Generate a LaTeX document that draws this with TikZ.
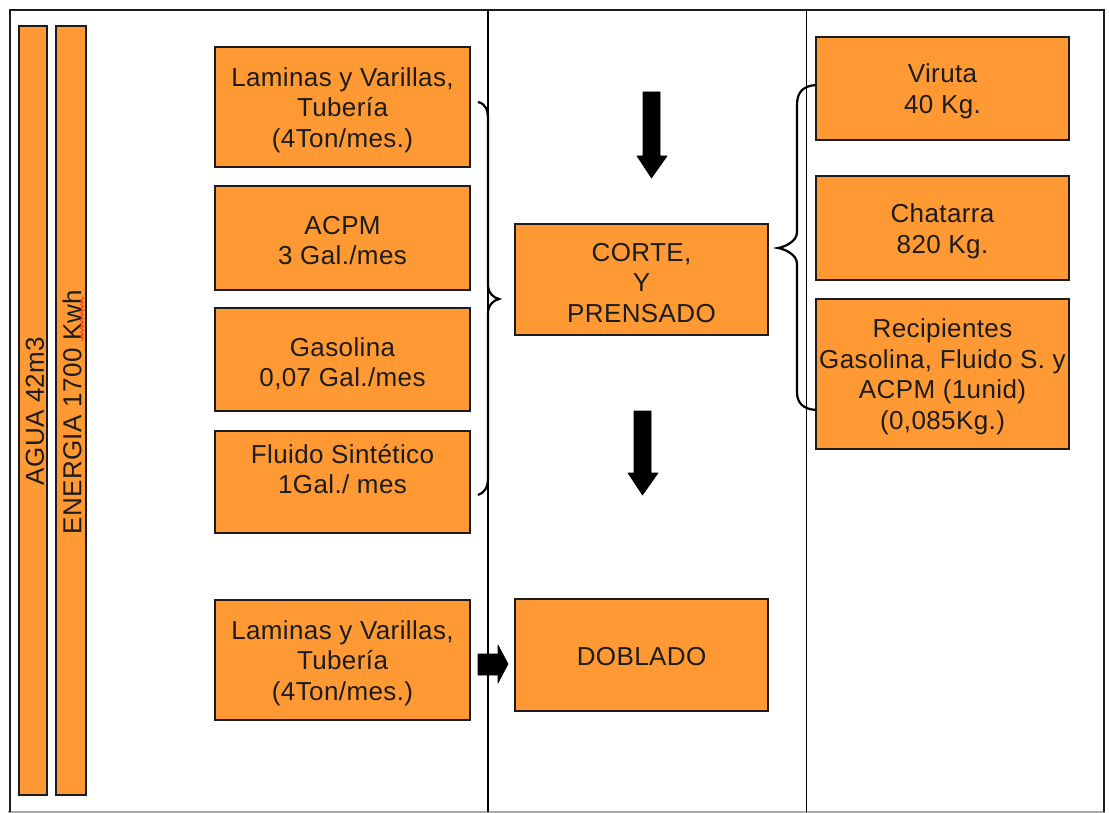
\documentclass[tikz,border=0pt]{standalone}
\usepackage{fontspec}
\setmainfont{Liberation Sans}[LetterSpace=1.5]
\usetikzlibrary{decorations.pathmorphing}
\definecolor{boxorange}{RGB}{255,153,51}
\definecolor{inkdark}{RGB}{28,28,28}
\definecolor{framegray}{RGB}{170,170,170}

\begin{document}
\begin{tikzpicture}[x=1pt,y=-1pt,
  box/.style={draw=inkdark, line width=1.3pt, fill=boxorange, inner sep=0pt},
  txt/.style={font=\fontsize{26}{30.5}\selectfont, text=inkdark, align=center, inner sep=0pt},
  brace/.style={draw=black, line width=2.2pt},
  blockarrow/.style={fill=black, draw=black, line width=0.6pt, line join=round}]

% page size
\useasboundingbox (0,0) rectangle (1109,813);
\fill[white] (0,0) rectangle (1109,813);

% outer frame and column dividers
\draw[framegray, line width=1.2pt] (8,812) -- (1105,812);
\draw[inkdark, line width=2.8pt] (10,812) -- (10,10) -- (1104,10) -- (1104,812);
\draw[black, line width=1.3pt] (488,10) -- (488,812);
\draw[black, line width=1.3pt] (806.5,10) -- (806.5,812);

% resource bars
\node[box, minimum width=28, minimum height=769] (agua) at (33,410.5) {};
\node[box, minimum width=30, minimum height=769] (energia) at (71,410.5) {};
\node[txt, rotate=90] (taqua) at (35,411) {AGUA 42m3};
\node[txt, rotate=90] (tenergia) at (72,412) {ENERGIA 1700 Kwh};
\draw[red!85!white, line width=0.7pt, decorate,
      decoration={snake, amplitude=1.4pt, segment length=4pt}]
  (82,297) -- (82,341);

% inputs
\node[box, minimum width=255, minimum height=120] (in1) at (342.5,107) {};
\node[txt] at (342.5,110) {Laminas y Varillas,\\Tubería\\(4Ton/mes.)};
\node[box, minimum width=255, minimum height=104] (in2) at (342.5,238) {};
\node[txt] at (342.5,240.5) {ACPM\\3 Gal./mes};
\node[box, minimum width=255, minimum height=103] (in3) at (342.5,359.5) {};
\node[txt] at (342.5,363.5) {Gasolina\\0,07 Gal./mes};
\node[box, minimum width=255, minimum height=102] (in4) at (342.5,482) {};
\node[txt] at (342.5,469) {Fluido Sintético\\1Gal./ mes};
\node[box, minimum width=255, minimum height=120] (in5) at (342.5,660) {};
\node[txt] at (342.5,663) {Laminas y Varillas,\\Tubería\\(4Ton/mes.)};

% processes
\node[box, minimum width=253, minimum height=111] (corte) at (641.5,279.5) {};
\node[txt] at (641.5,283) {CORTE,\\Y\\PRENSADO};
\node[box, minimum width=253, minimum height=112] (doblado) at (641.5,655) {};
\node[txt] at (641.5,657) {DOBLADO};

% outputs
\node[box, minimum width=253, minimum height=103] (out1) at (942.5,88.5) {};
\node[txt] at (942.5,91.5) {Viruta\\40 Kg.};
\node[box, minimum width=253, minimum height=104] (out2) at (942.5,228) {};
\node[txt] at (942.5,231.5) {Chatarra\\820 Kg.};
\node[box, minimum width=253, minimum height=150] (out3) at (942.5,374) {};
\node[txt] at (942.5,377) {Recipientes\\Gasolina, Fluido S. y\\ACPM (1unid)\\(0,085Kg.)};

% braces grouping inputs and outputs
\draw[brace] (478,102) .. controls (486,104) and (488,110) .. (488,120)
  -- (488,286) .. controls (488,293) and (494,298) .. (499,299)
  .. controls (494,300) and (488,305) .. (488,312)
  -- (488,478) .. controls (488,488) and (484,493) .. (478,495);
\draw[brace] (816,85) .. controls (803,86) and (797,92) .. (797,105)
  -- (797,232) .. controls (797,242) and (784,247) .. (778,248)
  .. controls (784,249) and (797,254) .. (797,264)
  -- (797,392) .. controls (797,403) and (803,409) .. (816,410);

% block arrows
\filldraw[blockarrow] (643,92) -- (660,92) -- (660,156) -- (667,156)
  -- (651.5,178) -- (637,156) -- (643,156) -- cycle;
\filldraw[blockarrow] (634,411) -- (651,411) -- (651,473) -- (658,473)
  -- (642.5,495) -- (628,473) -- (634,473) -- cycle;
\filldraw[blockarrow] (478,654) -- (498,654) -- (498,645) -- (508,664)
  -- (498,683) -- (498,675) -- (478,675) -- cycle;

\end{tikzpicture}
\end{document}
